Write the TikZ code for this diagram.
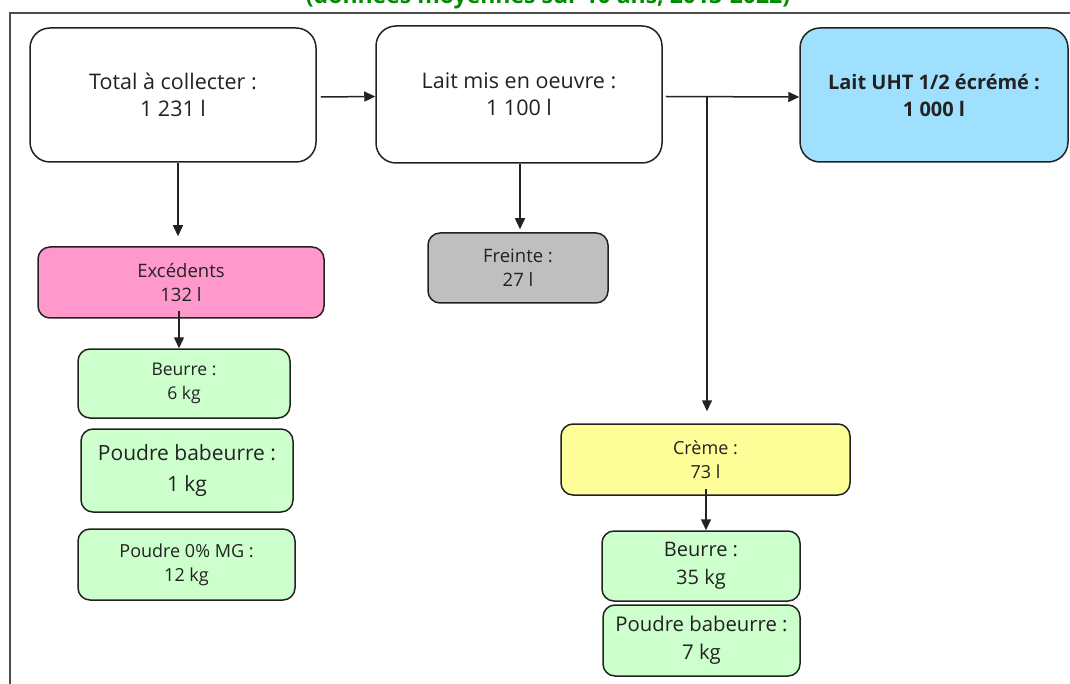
\documentclass[tikz,border=0pt]{standalone}
\usepackage{fontspec}
\setmainfont{Open Sans}
\usetikzlibrary{arrows.meta}
\definecolor{titlegreen}{RGB}{0,140,0}
\definecolor{inkgray}{RGB}{34,34,34}
\definecolor{boxpink}{RGB}{255,153,204}
\definecolor{boxblue}{RGB}{160,224,255}
\definecolor{boxgreen}{RGB}{204,255,204}
\definecolor{boxyellow}{RGB}{255,255,153}
\definecolor{boxgray}{RGB}{191,191,191}
\tikzset{
  bigbox/.style={draw=inkgray, line width=1.5pt, rounded corners=20pt, fill=white,
    align=center, text=inkgray, font=\fontsize{21.5}{27}\selectfont},
  smallbox/.style={draw=inkgray, line width=1.5pt, rounded corners=12pt,
    align=center, text=inkgray, font=\fontsize{17.5}{24}\selectfont},
  flow/.style={draw=inkgray, line width=1.5pt, -{Triangle[length=11pt,width=10pt]}}
}
\begin{document}
\begin{tikzpicture}[x=1pt,y=-1pt]
\useasboundingbox (0,0) rectangle (1070,684);
\clip (0,0) rectangle (1070,684);

% caption line, cut by the top of the page
\node[anchor=base, text=titlegreen, font=\bfseries\fontsize{23}{26}\selectfont, inner sep=0pt]
  (caption) at (548,4) {(données moyennes sur 10 ans, 2013-2022)};

% outer frame
\draw[inkgray!80, line width=1.2pt] (10,690) -- (10,13) -- (1075,13);

% main chain
\node[bigbox, minimum width=286pt, minimum height=134pt] (total) at (173,95)
  {Total à collecter :\\1 231 l};
\node[bigbox, minimum width=286pt, minimum height=137pt] (lait) at (519,94.5)
  {Lait mis en oeuvre :\\1 100 l};
\node[bigbox, fill=boxblue, minimum width=268pt, minimum height=134pt,
      font=\bfseries\fontsize{20}{27}\selectfont] (uht) at (934,95)
  {Lait UHT 1/2 écrémé :\\1 000 l};

% by-products
\node[smallbox, fill=boxpink, minimum width=286pt, minimum height=71pt,
      font=\fontsize{18.5}{24}\selectfont] (exc) at (181,282.5)
  {Excédents\\132 l};
\node[smallbox, fill=boxgray, minimum width=180pt, minimum height=70pt,
      font=\fontsize{18.5}{24}\selectfont] (freinte) at (518,268)
  {Freinte :\\27 l};
\node[smallbox, fill=boxyellow, minimum width=289pt, minimum height=71pt,
      font=\fontsize{18}{24}\selectfont] (creme) at (705.5,459.5)
  {Crème :\\73 l};

\node[smallbox, fill=boxgreen, minimum width=212pt, minimum height=69pt] (beurreA) at (184,383.5)
  {Beurre :\\6 kg};
\node[smallbox, fill=boxgreen, minimum width=212pt, minimum height=83pt,
      font=\fontsize{21}{31}\selectfont] (babeurreA) at (187,470.5)
  {Poudre babeurre :\\1 kg};
\node[smallbox, fill=boxgreen, minimum width=217pt, minimum height=71pt,
      font=\fontsize{18}{24}\selectfont] (poudre) at (186.5,564.5)
  {Poudre 0\% MG :\\12 kg};

\node[smallbox, fill=boxgreen, minimum width=198pt, minimum height=70pt,
      font=\fontsize{20}{28}\selectfont] (beurreB) at (701,566)
  {Beurre :\\35 kg};
\node[smallbox, fill=boxgreen, minimum width=197pt, minimum height=71pt,
      font=\fontsize{20.3}{28}\selectfont] (babeurreB) at (701.5,640.5)
  {Poudre babeurre :\\7 kg};

% connectors
\coordinate (split) at (707,97);
\draw[flow] ([xshift=4pt,yshift=-2pt]total.east) -- ([yshift=-2pt]lait.west);
\draw[flow] ([xshift=3pt,yshift=-2pt]lait.east) -- ([yshift=-2pt]uht.west);
\draw[flow] (split) -- ([yshift=12pt]creme.north -| split);
\draw[flow] (total.south -| 178,0) -- ([yshift=10pt]exc.north -| 178,0);
\draw[flow] ([yshift=8pt]exc.south -| 179,0) -- (beurreA.north -| 179,0);
\draw[flow] (lait.south -| 520,0) -- ([yshift=3pt]freinte.north -| 520,0);
\draw[flow] ([yshift=7pt]creme.south -| 706,0) -- (beurreB.north -| 706,0);
\end{tikzpicture}
\end{document}
